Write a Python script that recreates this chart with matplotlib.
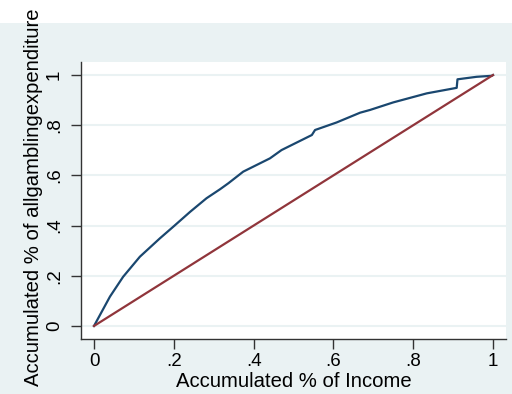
import matplotlib.pyplot as plt
from matplotlib.patches import Rectangle

plt.rcParams['font.family'] = ['Liberation Sans', 'DejaVu Sans']

# concentration curve: cumulative share of income vs cumulative gambling spend
income_share = [0.0, 0.040, 0.073, 0.115, 0.165, 0.199, 0.241, 0.282, 0.316, 0.337,
                0.374, 0.441, 0.470, 0.546, 0.554, 0.608, 0.667, 0.692, 0.750,
                0.834, 0.909, 0.911, 0.959, 0.997, 1.0]
gambling_share = [0.0, 0.117, 0.196, 0.276, 0.349, 0.396, 0.455, 0.509, 0.545, 0.569,
                  0.615, 0.668, 0.701, 0.761, 0.781, 0.811, 0.850, 0.861, 0.891,
                  0.927, 0.949, 0.983, 0.993, 0.997, 1.0]
equality = [0.0, 1.0]

ticks = [0, 0.2, 0.4, 0.6, 0.8, 1.0]
tick_labels = ['0', '.2', '.4', '.6', '.8', '1']

bg = '#eaf2f3'
navy = '#1a476f'
maroon = '#90353b'

fig = plt.figure(figsize=(5.12, 3.94), dpi=100, facecolor='white')
fig.patches.append(Rectangle((0, 0), 1, 1 - 23 / 394, transform=fig.transFigure,
                             facecolor=bg, edgecolor='none', zorder=-10))

ax = fig.add_axes([81 / 512, 1 - 339 / 394, 425 / 512, 277 / 394])
ax.set_facecolor('white')

ax.plot(income_share, gambling_share, color=navy, lw=1.6, zorder=3)
ax.plot(equality, equality, color=maroon, lw=1.6, zorder=3)

ax.set_xlim(-0.0326, 1.0326)
ax.set_ylim(-0.052, 1.052)

ax.set_xticks(ticks)
ax.set_xticklabels(tick_labels)
ax.set_yticks(ticks)
ax.set_yticklabels(tick_labels, rotation=90, va='center')

ax.tick_params(axis='both', length=7, width=1, color='#333333', labelsize=13.5)
ax.tick_params(axis='x', pad=3)
ax.tick_params(axis='y', pad=6)
ax.yaxis.grid(True, color=bg, lw=1.5)
ax.set_axisbelow(True)

for side in ['top', 'right']:
    ax.spines[side].set_visible(False)
for side in ['left', 'bottom']:
    ax.spines[side].set_color('#333333')
    ax.spines[side].set_linewidth(1)

fig.text(293.5 / 512, 1 - 387 / 394, 'Accumulated % of Income', ha='center',
         va='baseline', fontsize=14.6)
fig.text(34 / 512, 1 - 197 / 394, 'Accumulated % of allgamblingexpenditure',
         rotation=90, ha='center', va='center', fontsize=14.6)

fig.savefig('out.png', dpi=100, facecolor=fig.get_facecolor())
